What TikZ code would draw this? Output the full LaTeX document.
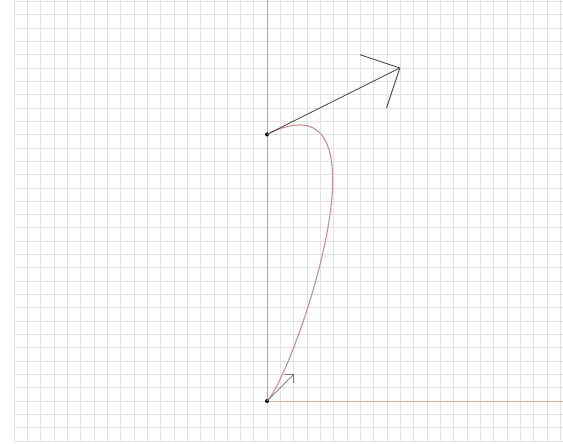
\documentclass[tikz,border=0pt]{standalone}
\usetikzlibrary{arrows.meta}
\definecolor{gridgray}{HTML}{E2E2E2}
\definecolor{axisgreen}{HTML}{7FC878}
\definecolor{axisred}{HTML}{DCAE9C}
\definecolor{curvered}{HTML}{C98C8C}
\definecolor{ink}{HTML}{3A3A3A}

\begin{document}
\begin{tikzpicture}[x=4mm,y=4mm,
 gridline/.style={draw=gridgray,line width=.35pt,step=4mm},
 axis/.style={line width=.8pt},
 handle/.style={draw=ink,line width=.7pt,-{Straight Barb[angle=90:12.6mm,line width=.7pt]}},
 smallhandle/.style={draw=ink!70,line width=.6pt,-{Straight Barb[angle=90:2.4mm,line width=.6pt]}},
 knot/.style={circle,fill=black,inner sep=0pt,minimum size=3.4pt}]
\path[use as bounding box,fill=white] (-20.03,-3.15) rectangle (22.2,30.08);
\draw[gridline] (-19,-3) grid (22.2,30.08);
% axes through the end point of the curve
\coordinate (origin) at (0,0);
\coordinate (ytop) at (0,30.08);
\coordinate (xend) at (22.2,0);
\draw[axis,draw=axisgreen] (origin)--(ytop);
\draw[axis,draw=axisred] (origin)--(xend);
% end points and control points of the Bezier segment
\node[knot] (start) at (0,20) {};
\node[knot] (end) at (0,0) {};
\coordinate (ctrla) at (10,25);
\coordinate (ctrlb) at (2,2);
\draw[curvered,line width=.9pt] (start.center) .. controls (ctrla) and (ctrlb) .. (end.center);
\draw[handle] (start.center)--(ctrla);
\draw[smallhandle] (end.center)--(ctrlb);
\end{tikzpicture}
\end{document}
